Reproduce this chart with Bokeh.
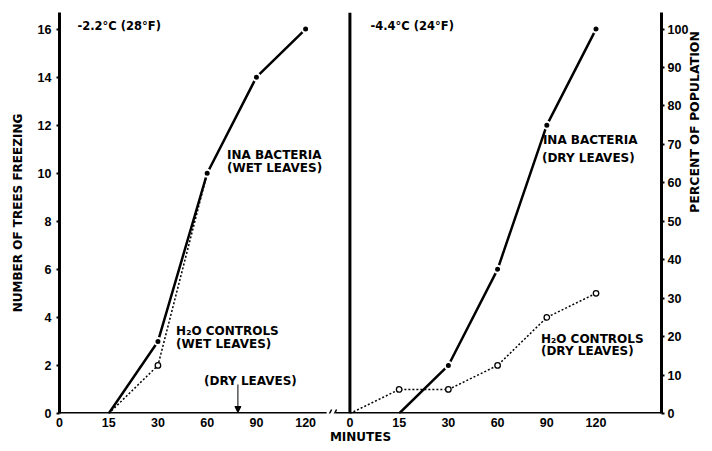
import math
from bokeh.plotting import figure
from bokeh.models import Range1d, LinearAxis, FixedTicker, Label, Arrow, NormalHead, Span
from bokeh.embed import file_html
from bokeh.resources import INLINE

# ---------------- data ----------------
minutes = [0, 15, 30, 60, 90, 120]
tick_labels = ["0", "15", "30", "60", "90", "120"]

wet_ina_min = [15, 30, 60, 90, 120]
wet_ina_trees = [0, 3, 10, 14, 16]
wet_h2o_min = [15, 30, 60]
wet_h2o_trees = [0, 2, 10]

dry_ina_min = [15, 30, 60, 90, 120]
dry_ina_trees = [0, 2, 6, 12, 16]
dry_h2o_min = [0, 15, 30, 60, 90, 120]
dry_h2o_trees = [0, 1, 1, 2, 4, 5]

trees_ticks = list(range(0, 17, 2))
pct_ticks = list(range(0, 101, 10))
TOTAL_TREES = 16

# ---------------- layout ----------------
OFFSET = 5.9          # start of second panel on the shared x scale
W, H = 712, 451
BL, BR, BT, BB = 59, 49, 12, 38
X_END = 12.23
Y_END = 16.69
FL, FR, FT, FB = BL, W - BR, BT, H - BB


def pos(m, panel):
    return minutes.index(m) + (OFFSET if panel else 0)


def ax(px):
    return (px - FL) * X_END / (FR - FL)


def ay(py):
    return (FB - py) * Y_END / (FB - FT)


FONT = "DejaVu Sans"

p = figure(width=W, height=H, x_range=Range1d(0, X_END), y_range=Range1d(0, Y_END),
           output_backend="svg", toolbar_location=None,
           min_border_left=BL, min_border_right=BR, min_border_top=BT, min_border_bottom=BB)
p.grid.visible = False
p.outline_line_color = None
p.background_fill_color = "white"

# x axis
xt = list(range(6)) + [OFFSET + i for i in range(6)]
p.xaxis.ticker = FixedTicker(ticks=xt)
ov = {}
for i, lab in enumerate(tick_labels):
    ov[i] = lab
    ov[OFFSET + i] = lab
p.xaxis.major_label_overrides = ov
p.xaxis.axis_line_color = None
p.xaxis.major_tick_line_color = None
p.xaxis.minor_tick_line_color = None
p.xaxis.major_tick_out = 0
p.xaxis.major_tick_in = 0
p.xaxis.axis_label = "MINUTES"
p.xaxis.major_label_standoff = 4
p.xaxis.axis_label_standoff = 0

# left y axis
p.yaxis.ticker = FixedTicker(ticks=trees_ticks)
p.yaxis.axis_label = "NUMBER OF TREES FREEZING"
p.yaxis.axis_line_width = 3
p.yaxis.major_tick_out = 3
p.yaxis.major_tick_in = 0
p.yaxis.major_tick_line_width = 2
p.yaxis.minor_tick_line_color = None
p.yaxis.major_label_standoff = 5
p.yaxis.axis_label_standoff = 10

# right y axis (percent)
p.extra_y_ranges = {"pct": Range1d(0, Y_END * 100 / TOTAL_TREES)}
ra = LinearAxis(y_range_name="pct", ticker=FixedTicker(ticks=pct_ticks),
                axis_label="PERCENT OF POPULATION")
ra.axis_line_width = 3
ra.major_tick_out = 3
ra.major_tick_in = 0
ra.major_tick_line_width = 2
ra.minor_tick_line_color = None
ra.major_label_standoff = 3
ra.axis_label_standoff = 3
ra.axis_label_orientation = math.pi / 2
p.add_layout(ra, "right")

for a in [p.xaxis[0], p.yaxis[0], ra]:
    a.major_label_text_font = "Liberation Sans"
    a.major_label_text_font_style = "bold"
    a.major_label_text_font_size = "12.5px"
    a.major_label_text_color = "black"
    a.axis_label_text_font = FONT
    a.axis_label_text_font_style = "bold"
    a.axis_label_text_color = "black"
p.xaxis.axis_label_text_font_size = "12px"
p.yaxis.axis_label_text_font_size = "12px"
ra.axis_label_text_font_size = "12.5px"

# bottom axis with break
for x0, x1 in [(0, ax(327)), (ax(336), X_END)]:
    p.add_layout(Arrow(end=None, x_start=x0, y_start=0, x_end=x1, y_end=0,
                       line_width=3, line_color="black"))
for px in (328, 333):
    p.add_layout(Arrow(end=None, x_start=ax(px), y_start=ay(FB + 4), x_end=ax(px + 4),
                       y_end=ay(FB - 4), line_width=1.5, line_color="black"))

# second panel left axis line
p.add_layout(Span(location=OFFSET, dimension="height", line_width=3, line_color="black"))


def solid(mins, vals, panel):
    xs = [pos(m, panel) for m in mins]
    p.line(xs, vals, line_width=2.5, line_color="black")
    p.scatter(xs[1:], vals[1:], size=7, fill_color="black", line_color="white", line_width=2)


def dotted(mins, vals, panel):
    xs = [pos(m, panel) for m in mins]
    p.line(xs, vals, line_width=1.5, line_color="black", line_dash="2 2")
    p.scatter(xs[1:], vals[1:], size=5.5, fill_color="white", line_color="black", line_width=1.3)


dotted(wet_h2o_min, wet_h2o_trees, 0)
solid(wet_ina_min, wet_ina_trees, 0)
dotted(dry_h2o_min, dry_h2o_trees, 1)
solid(dry_ina_min, dry_ina_trees, 1)


def lab(text, px, py, size="12px"):
    p.add_layout(Label(x=ax(px), y=ay(py), text=text, text_font=FONT, text_font_style="bold",
                       text_font_size=size, text_color="black", text_align="left",
                       text_baseline="middle"))


lab("-2.2°C (28°F)", 77, 25, "11.5px")
lab("-4.4°C (24°F)", 371, 25, "11.5px")
lab("INA BACTERIA", 227, 154)
lab("(WET LEAVES)", 227, 167)
lab("H₂O CONTROLS", 176, 330)
lab("(WET LEAVES)", 176, 343)
lab("(DRY LEAVES)", 204, 380)
lab("INA BACTERIA", 544, 139)
lab("(DRY LEAVES)", 543, 157)
lab("H₂O CONTROLS", 542, 338)
lab("(DRY LEAVES)", 542, 350)

p.add_layout(Arrow(end=NormalHead(size=6, fill_color="black", line_color="black"),
                   x_start=ax(238), y_start=ay(384), x_end=ax(238), y_end=ay(FB - 1),
                   line_width=1, line_color="black"))

open("out.html", "w").write(file_html(p, INLINE))
